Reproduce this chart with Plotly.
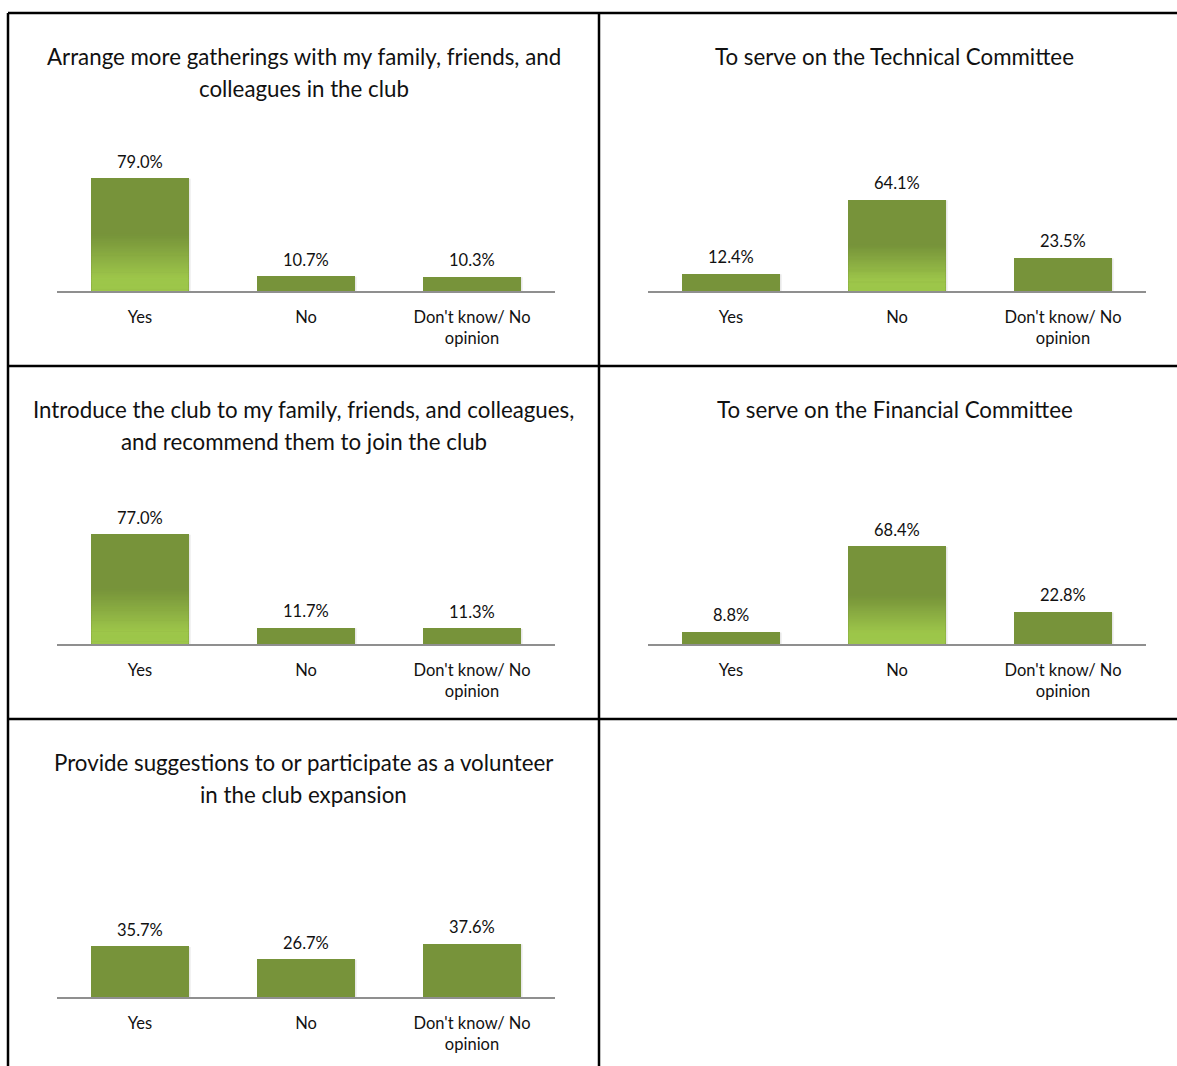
import plotly.graph_objects as go

# Survey answers, one panel per question
categories = ["Yes", "No", "Don't know/ No<br>opinion"]

titles = [
    ["Arrange more gatherings with my family, friends, and", "colleagues in the club"],
    ["To serve on the Technical Committee"],
    ["Introduce the club to my family, friends, and colleagues,", "and recommend them to join the club"],
    ["To serve on the Financial Committee"],
    ["Provide suggestions to or participate as a volunteer", "in the club expansion"],
]

gatherings = [79.0, 10.7, 10.3]
technical = [12.4, 64.1, 23.5]
introduce = [77.0, 11.7, 11.3]
financial = [8.8, 68.4, 22.8]
volunteer = [35.7, 26.7, 37.6]

panel_values = [gatherings, technical, introduce, financial, volunteer]
# grid position (column, row) of each panel
panel_cells = [(0, 0), (1, 0), (0, 1), (1, 1), (0, 2)]

W, H = 1177, 1066
DARK = (119, 147, 58)
LIGHT = (157, 198, 74)
BAR_W = 0.585
PX_PER_PCT = 1.435
FONT = "Lato"

cell_x = [8, 599]
cell_y = [13, 366, 719]
CELL_W = 591


def px_x(p):
    return p / W


def px_y(p):
    return 1 - p / H


def rgb(c):
    return "rgb(%d,%d,%d)" % c


fig = go.Figure()
shapes = []
annotations = []

for k, (vals, (col, row), title) in enumerate(zip(panel_values, panel_cells, titles)):
    n = k + 1
    xa = "xaxis" if n == 1 else "xaxis%d" % n
    ya = "yaxis" if n == 1 else "yaxis%d" % n
    xr = "x" if n == 1 else "x%d" % n
    yr = "y" if n == 1 else "y%d" % n

    cx = cell_x[col]
    cy = cell_y[row]
    base = cy + 278
    top = base - 100 * PX_PER_PCT

    fig.add_trace(go.Bar(
        x=list(range(len(categories))), y=vals, width=BAR_W,
        marker=dict(color=rgb(DARK), line=dict(width=0)),
        xaxis=xr, yaxis=yr, showlegend=False, hoverinfo="skip",
    ))

    fig.layout[xa] = dict(
        domain=[px_x(cx + 49), px_x(cx + 547)],
        anchor=yr, range=[-0.5, 2.5],
        tickmode="array", tickvals=list(range(len(categories))), ticktext=categories,
        showline=True, linecolor="#8f8f8f", linewidth=1.5,
        showgrid=False, zeroline=False, ticks="", ticklabelstandoff=10,
        tickfont=dict(family=FONT, size=16.5, color="#111"),
        fixedrange=True,
    )
    fig.layout[ya] = dict(
        domain=[px_y(base), px_y(top)], anchor=xr, range=[0, 100],
        visible=False, fixedrange=True,
    )

    for i, v in enumerate(vals):
        annotations.append(dict(
            x=i, y=v, xref=xr, yref=yr, text="%.1f%%" % v, showarrow=False,
            yanchor="bottom", yshift=4,
            font=dict(family=FONT, size=16.5, color="#111"),
        ))
        # soft drop shadow to the right of each bar
        shapes.append(dict(
            type="rect", xref=xr, yref=yr, layer="below",
            x0=i - BAR_W / 2 + 0.008, x1=i + BAR_W / 2 + 0.012,
            y0=-0.9, y1=v - 0.8,
            fillcolor="#e8e8e8", line=dict(width=0),
        ))
        # majority answers get a light-green fade over the lower half of the bar
        if v > 50:
            steps = 50
            span = 0.5
            for s in range(steps):
                f0 = s / steps
                f1 = (s + 1) / steps
                pos = (f0 + f1) / 2
                t = min(1.0, (1 - pos) / 0.78)
                c = tuple(int(round(DARK[j] + (LIGHT[j] - DARK[j]) * t)) for j in range(3))
                shapes.append(dict(
                    type="rect", xref=xr, yref=yr, layer="above",
                    x0=i - BAR_W / 2, x1=i + BAR_W / 2,
                    y0=v * span * f0, y1=v * span * (f1 + 0.6 / steps),
                    fillcolor=rgb(c), line=dict(width=0),
                ))

    for j, line in enumerate(title):
        annotations.append(dict(
            x=px_x(cx + CELL_W / 2), y=px_y(cy + 43 + 32 * j), xref="paper", yref="paper",
            text=line, showarrow=False, xanchor="center", yanchor="middle",
            font=dict(family=FONT, size=22.3, color="#111"),
        ))

# table borders around the panels
border = dict(color="black", width=2.5)
for x0, y0, x1, y1 in [
    (8, 13, W, 13), (8, 366, W, 366), (8, 719, W, 719),
    (8, 13, 8, H), (599, 13, 599, H),
]:
    shapes.append(dict(type="line", xref="paper", yref="paper",
                       x0=px_x(x0), y0=px_y(y0), x1=px_x(x1), y1=px_y(y1), line=border))

fig.update_layout(
    width=W, height=H, margin=dict(l=0, r=0, t=0, b=0),
    paper_bgcolor="white", plot_bgcolor="white",
    shapes=shapes, annotations=annotations, bargap=0,
)

fig.write_html("out.html")
